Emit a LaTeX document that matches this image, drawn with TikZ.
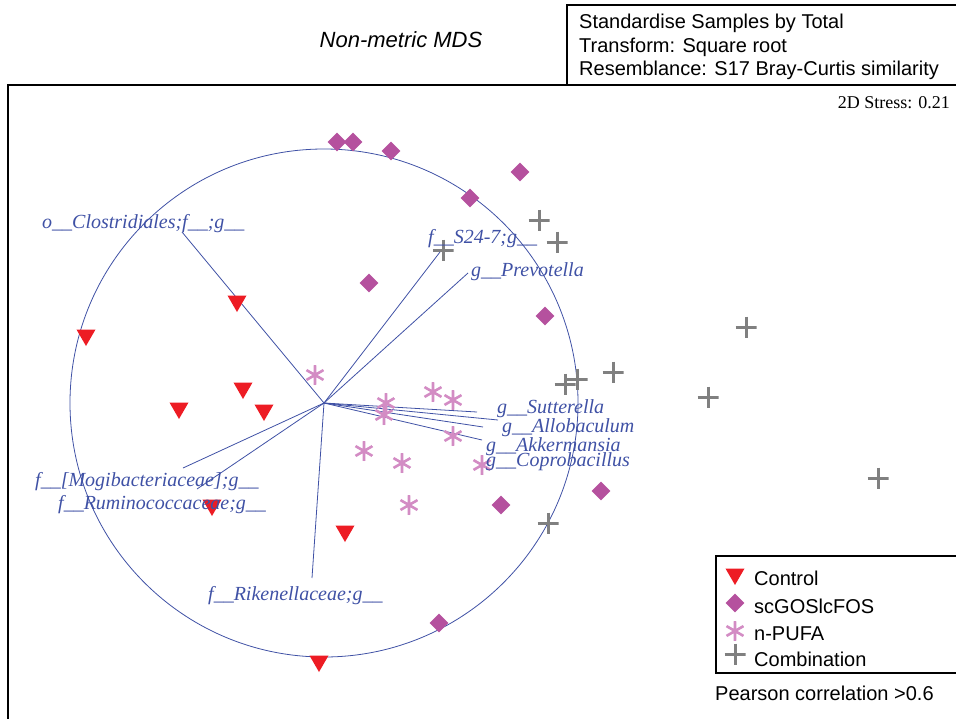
\documentclass[tikz,border=0pt]{standalone}
\usepackage{fontspec}
\setmainfont{Liberation Serif}
\setsansfont{Liberation Sans}
\usepackage{xcolor}
\usepackage{tikz}
\usetikzlibrary{shapes,positioning}

\definecolor{vecblue}{RGB}{63,81,165}
\definecolor{ctlred}{RGB}{237,28,36}
\definecolor{gosmag}{RGB}{181,81,158}
\definecolor{pufapink}{RGB}{211,140,196}
\definecolor{combgray}{RGB}{128,128,128}

\begin{document}
\begin{tikzpicture}[x=1pt, y=-1pt,
  frame/.style={black, line width=1.2pt},
  vec/.style={vecblue, line width=0.8pt},
  veclab/.style={anchor=base west, inner sep=0pt, text=vecblue, font=\fontsize{20}{24}\selectfont\itshape},
  sftxt/.style={anchor=base west, inner sep=0pt, font=\sffamily\fontsize{20}{24}\selectfont},
  ctlmark/.style={regular polygon, regular polygon sides=3, shape border rotate=180, fill=ctlred, minimum size=22pt, inner sep=0pt},
  gosmark/.style={diamond, fill=gosmag, minimum size=19pt, inner sep=0pt},
  pufamark/.style={circle, minimum size=20pt, inner sep=0pt, path picture={
    \draw[pufapink, line width=2.6pt, shift={(path picture bounding box.center)}]
      (90:10pt) -- (270:10pt) (30:10pt) -- (210:10pt) (150:10pt) -- (330:10pt);}},
  combmark/.style={rectangle, minimum size=21pt, inner sep=0pt, path picture={
    \draw[combgray, line width=3pt]
      (path picture bounding box.north) -- (path picture bounding box.south)
      (path picture bounding box.west) -- (path picture bounding box.east);}}
]
  \useasboundingbox (0,0) rectangle (956,718);
  \clip (0,0) rectangle (956,718);

  % header and frame
  \node [font=\sffamily\itshape\fontsize{22}{26}\selectfont, inner sep=0pt] at (401,40) (title) {Non-metric MDS};
  \draw [frame] (567,85) |- (980,5);
  \node [sftxt] at (579,28) (hdrA) {Standardise Samples by Total};
  \node [sftxt] at (579,52) (hdrB) {Transform: Square root};
  \node [sftxt] at (579,75) (hdrC) {Resemblance: S17 Bray-Curtis similarity};
  \draw [frame] (8,740) |- (980,85);
  \node [anchor=base east, inner sep=0pt, font=\fontsize{18}{22}\selectfont] at (950,108) (stress) {2D Stress: 0.21};

  % correlation circle and vectors
  \coordinate (o) at (324,403);
  \draw [vec] (o) circle [radius=254pt];
  \coordinate (vClos) at (182,232);
  \coordinate (vS24) at (440,252);
  \coordinate (vPrev) at (468,273);
  \coordinate (vSutt) at (477,412);
  \coordinate (vAllo) at (498,420);
  \coordinate (vAkke) at (483,427);
  \coordinate (vCopr) at (482,440);
  \coordinate (vMogi) at (183,468);
  \coordinate (vRumi) at (197,489);
  \coordinate (vRike) at (312,578);
  \foreach \v in {vClos,vS24,vPrev,vSutt,vAllo,vAkke,vCopr,vMogi,vRumi,vRike}
    \draw [vec] (o) -- (\v);

  % samples
  \foreach \px/\py [count=\i] in {237/301, 86/335, 179/408, 243/388, 264/410, 212/505, 345/531, 319/661}
    \node [ctlmark] (ctl\i) at (\px,\py) {};
  \foreach \px/\py [count=\i] in {337/142, 353/142, 391/151, 520/172, 470/198, 369/283, 545/316, 601/491, 501/505, 439/623}
    \node [gosmark] (gos\i) at (\px,\py) {};
  \foreach \px/\py [count=\i] in {315/375, 386/403, 384/415, 433/392, 453/400, 453/436, 364/451, 402/463, 482/465, 409/505}
    \node [pufamark] (pufa\i) at (\px,\py) {};
  \foreach \px/\py [count=\i] in {539/220, 557/242, 443/250, 746/327, 613/372, 577/379, 565/384, 708/397, 878/478, 548/523}
    \node [combmark] (comb\i) at (\px,\py) {};

  % vector labels
  \node [veclab] at (42,228) (lClos) {o\_\_Clostridiales;f\_\_;g\_\_};
  \node [veclab] at (428,243) (lS24) {f\_\_S24-7;g\_\_};
  \node [veclab] at (471,276) (lPrev) {g\_\_Prevotella};
  \node [veclab] at (497,413) (lSutt) {g\_\_Sutterella};
  \node [veclab] at (502,432) (lAllo) {g\_\_Allobaculum};
  \node [veclab] at (486,451) (lAkke) {g\_\_Akkermansia};
  \node [veclab] at (486,466) (lCopr) {g\_\_Coprobacillus};
  \node [veclab] at (35,486) (lMogi) {f\_\_[Mogibacteriaceae];g\_\_};
  \node [veclab] at (58,509) (lRumi) {f\_\_Ruminococcaceae;g\_\_};
  \node [veclab] at (208,600) (lRike) {f\_\_Rikenellaceae;g\_\_};

  % legend
  \draw [black, line width=1.2pt] (716,556) rectangle (980,673);
  \node [ctlmark] at (735,574) (lgCtl) {};
  \node [gosmark] at (735,603) (lgGos) {};
  \node [pufamark] at (735,631) (lgPufa) {};
  \node [combmark] at (735,654) (lgComb) {};
  \node [sftxt] at (754,585) (lgCtlTxt) {Control};
  \node [sftxt] at (754,613) (lgGosTxt) {scGOSlcFOS};
  \node [sftxt] at (754,640) (lgPufaTxt) {n-PUFA};
  \node [sftxt] at (754,666) (lgCombTxt) {Combination};
  \node [sftxt] at (715,700) (pearson) {Pearson correlation >0.6};
\end{tikzpicture}
\end{document}
